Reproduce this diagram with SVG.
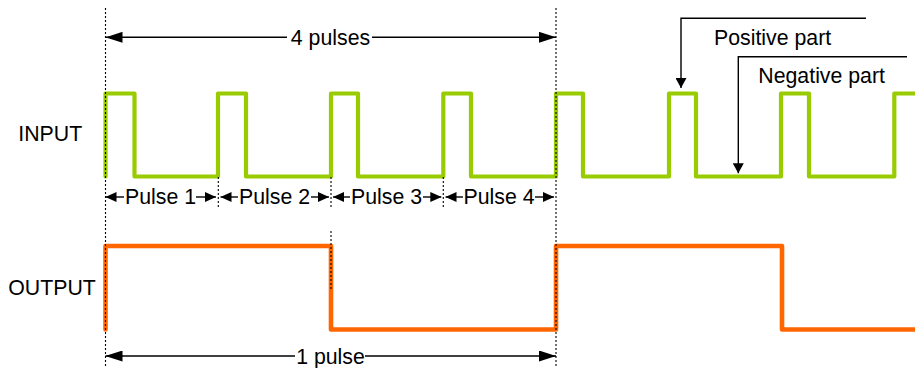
<svg xmlns="http://www.w3.org/2000/svg" width="915" height="368" viewBox="0 0 915 368">
  <style>
    text { font-family: "Liberation Sans", Arial, sans-serif; font-size: 21.3px; fill: #000; }
    .mid { text-anchor: middle; }
    .wave { fill: none; stroke-width: 4.2; stroke-linejoin: round; stroke-linecap: round; }
    .in { stroke: #99CC00; }
    .out { stroke: #FF6600; stroke-width: 4.6; }
    .dot { stroke: #000; stroke-width: 1.1; stroke-dasharray: 2 2; fill: none; }
    .ln { stroke: #000; stroke-width: 1.4; fill: none; }
    .big { marker-end: url(#bigHead); }
    .bigs { marker-start: url(#bigHead); }
    .sm { marker-end: url(#smHead); }
    .sms { marker-start: url(#smHead); }
  </style>
  <defs>
    <marker id="bigHead" markerUnits="userSpaceOnUse" markerWidth="17" markerHeight="11" refX="17" refY="5.5" orient="auto-start-reverse">
      <path d="M0,0 L17,5.5 L0,11 Z" fill="#000"/>
    </marker>
    <marker id="smHead" markerUnits="userSpaceOnUse" markerWidth="11" markerHeight="11" refX="11" refY="5.5" orient="auto-start-reverse">
      <path d="M0,0.5 L11,5.5 L0,10.5 Z" fill="#000"/>
    </marker>
    <marker id="callHead" markerUnits="userSpaceOnUse" markerWidth="10" markerHeight="11" refX="10" refY="5.5" orient="auto">
      <path d="M0,0 L10,5.5 L0,11 Z" fill="#000"/>
    </marker>
  </defs>

  <g id="labels">
    <text id="label-input" x="18.3" y="141">INPUT</text>
    <text id="label-output" x="8.3" y="294.5">OUTPUT</text>
  </g>

  <g id="input-signal">
    <path class="wave in" d="M105.5,176.5 V93.5 H134.5 V176.5 H218 V93.5 H246 V176.5 H331 V93.5 H358 V176.5 H443.3 V93.5 H471 V176.5 H556 V93.5 H583 V176.5 H669 V93.5 H696 V176.5 H781 V93.5 H809 V176.5 H894.3 V93.5 H918"/>
  </g>

  <g id="output-signal">
    <path class="wave out" d="M105.5,329.5 V246 H331 V329.5 H556 V246 H782 V329.5 H918"/>
  </g>

  <g id="connectors">
    <line class="dot" x1="105.5" y1="8" x2="105.5" y2="366"/>
    <line class="dot" x1="556" y1="8" x2="556" y2="366"/>
    <line class="dot" x1="218.3" y1="177" x2="218.3" y2="208"/>
    <line class="dot" x1="331" y1="177" x2="331" y2="208"/>
    <line class="dot" x1="443.3" y1="177" x2="443.3" y2="208"/>
    <line class="dot" x1="331" y1="231" x2="331" y2="289"/>

    <line class="ln bigs" x1="105.5" y1="37.3" x2="287" y2="37.3"/>
    <line class="ln big" x1="372" y1="37.3" x2="556" y2="37.3"/>

    <line class="ln bigs" x1="105.5" y1="356" x2="295" y2="356"/>
    <line class="ln big" x1="365" y1="356" x2="556" y2="356"/>

    <line class="ln sms" x1="105.5" y1="197" x2="124" y2="197"/>
    <line class="ln sm" x1="196" y1="197" x2="216" y2="197"/>
    <line class="ln sms" x1="220.5" y1="197" x2="238" y2="197"/>
    <line class="ln sm" x1="311" y1="197" x2="329" y2="197"/>
    <line class="ln sms" x1="333" y1="197" x2="350" y2="197"/>
    <line class="ln sm" x1="423" y1="197" x2="441.3" y2="197"/>
    <line class="ln sms" x1="445.5" y1="197" x2="463" y2="197"/>
    <line class="ln sm" x1="535" y1="197" x2="554" y2="197"/>

    <path class="ln" d="M866,18.3 H681 V88" marker-end="url(#callHead)"/>
    <path class="ln" d="M907,56.7 H738.3 V173.3" marker-end="url(#callHead)"/>
  </g>

  <g id="annotations">
    <text class="mid" x="330.5" y="44.5">4 pulses</text>
    <text class="mid" x="330.5" y="363.5">1 pulse</text>
    <text class="mid" x="160.5" y="204">Pulse 1</text>
    <text class="mid" x="274.5" y="204">Pulse 2</text>
    <text class="mid" x="386.5" y="204">Pulse 3</text>
    <text class="mid" x="499" y="204">Pulse 4</text>
    <text x="714" y="45">Positive part</text>
    <text x="758.3" y="83.3">Negative part</text>
  </g>
</svg>
